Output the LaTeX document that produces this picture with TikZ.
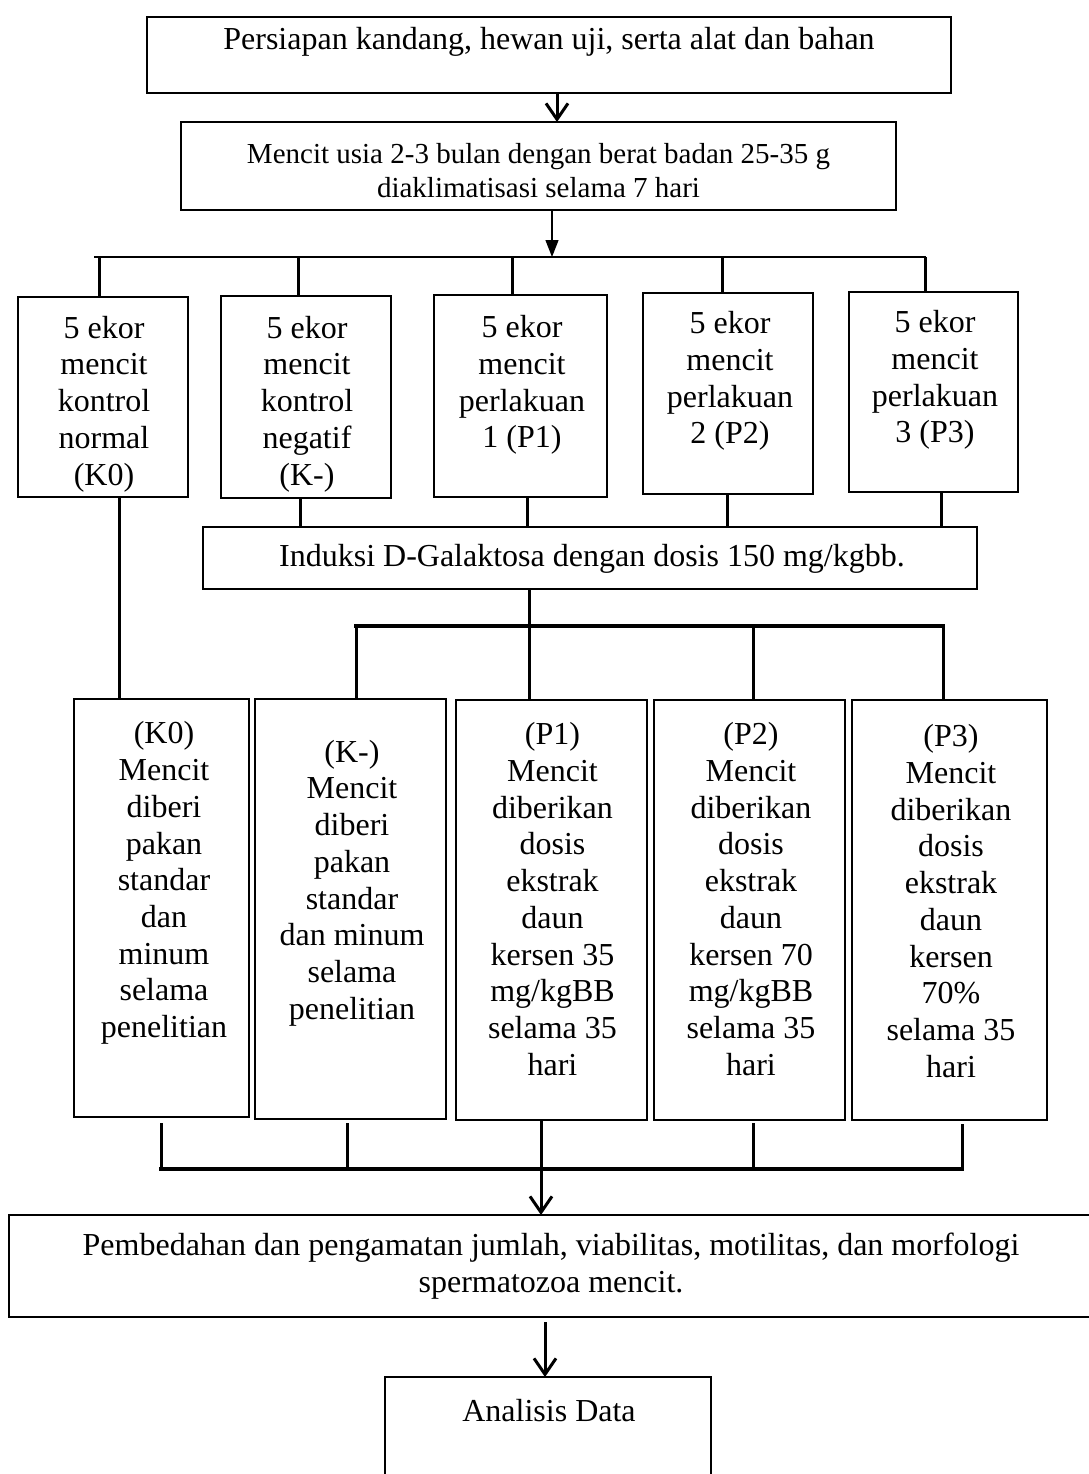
\documentclass[tikz,border=0pt]{standalone}
\usepackage{fontspec}
\setmainfont{Liberation Serif}
\usetikzlibrary{arrows.meta}
\begin{document}
\begin{tikzpicture}[x=1pt,y=-1pt,
  box/.style={draw,line width=2.2pt,inner sep=0pt,outer sep=0pt},
  txt/.style={align=center,inner sep=0pt,font=\fontsize{32}{36.7}\selectfont},
  link/.style={line width=3pt},
  bar/.style={line width=4pt,line cap=rect},
  hair/.style={line width=1.5pt},
  openarrow/.style={line width=3pt,-{Straight Barb[length=16pt,width=22pt,line width=3pt]}},
  thinarrow/.style={line width=1.3pt,-{Triangle[length=17pt,width=13pt]}}]
\fill[white] (0,0) rectangle (1088,1474);
\useasboundingbox (0,0) rectangle (1088,1474);

% ---------- top boxes ----------
\node[box,minimum width=804pt,minimum height=76pt] (b1) at (549,55) {};
\node[txt] (t1) at (549,42) {Persiapan kandang, hewan uji, serta alat dan bahan};

\node[box,minimum width=715pt,minimum height=88pt] (b2) at (538.5,166) {};
\node[txt,font=\fontsize{29}{34}\selectfont] (t2) at (538.5,171)
  {Mencit usia 2-3 bulan dengan berat badan 25-35 g\\diaklimatisasi selama 7 hari};

% ---------- group boxes ----------
\node[box,minimum width=170pt,minimum height=200pt] (g0) at (103,397) {};
\node[box,minimum width=170pt,minimum height=202pt] (g1) at (306,397) {};
\node[box,minimum width=173pt,minimum height=202pt] (g2) at (520.5,396) {};
\node[box,minimum width=170pt,minimum height=201pt] (g3) at (728,393.5) {};
\node[box,minimum width=169pt,minimum height=200pt] (g4) at (933.5,392) {};
\node[txt] (tg0) at (104,404) {5 ekor\\mencit\\kontrol\\normal\\(K0)};
\node[txt] (tg1) at (307,404) {5 ekor\\mencit\\kontrol\\negatif\\(K-)};
\node[txt] (tg2) at (522,385) {5 ekor\\mencit\\perlakuan\\1 (P1)};
\node[txt] (tg3) at (730,381) {5 ekor\\mencit\\perlakuan\\2 (P2)};
\node[txt] (tg4) at (935,380) {5 ekor\\mencit\\perlakuan\\3 (P3)};

% ---------- induction box ----------
\node[box,minimum width=774pt,minimum height=62pt] (d) at (590,558) {};
\node[txt] (td) at (592,559) {Induksi D-Galaktosa dengan dosis 150 mg/kgbb.};

% ---------- treatment boxes ----------
\node[box,minimum width=175pt,minimum height=418pt] (k0) at (161.5,908) {};
\node[box,minimum width=191pt,minimum height=420pt] (k1) at (350.5,909) {};
\node[box,minimum width=191pt,minimum height=420pt] (k2) at (551.5,910) {};
\node[box,minimum width=191pt,minimum height=420pt] (k3) at (749.5,910) {};
\node[box,minimum width=195pt,minimum height=420pt] (k4) at (949.5,910) {};
\node[txt] (tk0) at (164,883) {(K0)\\Mencit\\diberi\\pakan\\standar\\dan\\minum\\selama\\penelitian};
\node[txt] (tk1) at (352,883) {(K-)\\Mencit\\diberi\\pakan\\standar\\dan minum\\selama\\penelitian};
\node[txt] (tk2) at (552.5,899) {(P1)\\Mencit\\diberikan\\dosis\\ekstrak\\daun\\kersen 35\\mg/kgBB\\selama 35\\hari};
\node[txt] (tk3) at (751,899) {(P2)\\Mencit\\diberikan\\dosis\\ekstrak\\daun\\kersen 70\\mg/kgBB\\selama 35\\hari};
\node[txt] (tk4) at (951,901) {(P3)\\Mencit\\diberikan\\dosis\\ekstrak\\daun\\kersen\\70\%\\selama 35\\hari};

% ---------- final boxes ----------
\node[box,minimum width=1100pt,minimum height=102pt] (pb) at (559,1266) {};
\node[txt] (tpb) at (551,1266) {Pembedahan dan pengamatan jumlah, viabilitas, motilitas, dan morfologi\\spermatozoa mencit.};
\node[box,minimum width=326pt,minimum height=140pt] (an) at (548,1447) {};
\node[txt] (tan) at (549,1411) {Analisis Data};

% ---------- connectors ----------
\coordinate (a1) at (557,0);
\draw[openarrow] (b1.south -| a1) -- (b2.north -| a1);
\coordinate (a2) at (552,257);
\draw[thinarrow] (b2.south -| a2) -- (a2);
\coordinate (hl) at (94,257);
\coordinate (hr) at (926,257);
\draw[hair] (hl) -- (hr);
\coordinate (u0) at (99,257);
\coordinate (u1) at (298,257);
\coordinate (u2) at (512,257);
\coordinate (u3) at (722,257);
\coordinate (u4) at (925,257);
\draw[link] (u0) -- (g0.north -| u0);
\draw[link] (u1) -- (g1.north -| u1);
\draw[link] (u2) -- (g2.north -| u2);
\draw[link] (u3) -- (g3.north -| u3);
\draw[link] (u4) -- (g4.north -| u4);

\coordinate (v0) at (119,0);
\coordinate (v1) at (300,0);
\coordinate (v2) at (527,0);
\coordinate (v3) at (727,0);
\coordinate (v4) at (941,0);
\draw[link] (g0.south -| v0) -- (k0.north -| v0);
\draw[link] (g1.south -| v1) -- (d.north -| v1);
\draw[link] (g2.south -| v2) -- (d.north -| v2);
\draw[link] (g3.south -| v3) -- (d.north -| v3);
\draw[link] (g4.south -| v4) -- (d.north -| v4);

\coordinate (w0) at (529,626);
\coordinate (w1) at (356,626);
\coordinate (w3) at (753,626);
\coordinate (w4) at (943,626);
\draw[link] (d.south -| w0) -- (w0);
\draw[bar] (w1) -- (w4);
\draw[link] (w1) -- (k1.north -| w1);
\draw[link] (w0) -- (k2.north -| w0);
\draw[link] (w3) -- (k3.north -| w3);
\draw[link] (w4) -- (k4.north -| w4);

\coordinate (z0) at (161,1169);
\coordinate (z1) at (347,1169);
\coordinate (z2) at (541,1169);
\coordinate (z3) at (753,1169);
\coordinate (z4) at (962,1169);
\draw[link,shorten <=6pt] (k0.south -| z0) -- (z0);
\draw[link,shorten <=4pt] (k1.south -| z1) -- (z1);
\draw[link] (k2.south -| z2) -- (z2);
\draw[link,shorten <=3pt] (k3.south -| z3) -- (z3);
\draw[link,shorten <=4pt] (k4.south -| z4) -- (z4);
\draw[bar] (z0) -- (z4);
\draw[openarrow] (z2) -- (pb.north -| z2);

\coordinate (y1) at (545,0);
\draw[openarrow,shorten <=5pt] (pb.south -| y1) -- (an.north -| y1);
\end{tikzpicture}
\end{document}
